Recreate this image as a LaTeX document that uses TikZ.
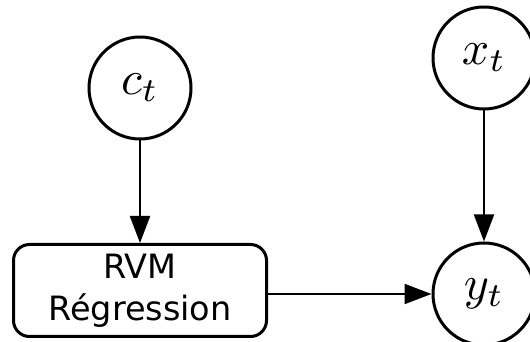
\documentclass[tikz,border=0pt]{standalone}
\usepackage{fontspec}
\setsansfont{DejaVu Sans}
\usetikzlibrary{arrows.meta}
\newcommand{\bigmath}[1]{\scalebox{4.8}{$#1$}}
\begin{document}
\begin{tikzpicture}[x=1pt,y=1pt,
  var/.style={circle,draw,line width=3pt,minimum size=102pt,inner sep=0pt},
  proc/.style={rectangle,rounded corners=16pt,draw,line width=3pt,minimum width=253pt,minimum height=92pt,inner sep=0pt,align=center,font=\sffamily\fontsize{33.5}{42}\selectfont},
  conn/.style={line width=2pt,-{Triangle[length=27pt,width=20pt]}}]
\useasboundingbox (0,0) rectangle (530,342);
\node[var] (ct) at (140,254) {\bigmath{c_t}};
\node[var] (xt) at (484,284) {\bigmath{x_t}};
\node[var] (yt) at (484,48) {\bigmath{y_t}};
\node[proc] (rvm) at (140,51.5) {RVM\\Régression};
\draw[conn] (ct) -- (rvm);
\draw[conn] (xt) -- (yt);
\draw[conn] (rvm.east |- yt.west) -- (yt.west);
\end{tikzpicture}
\end{document}
